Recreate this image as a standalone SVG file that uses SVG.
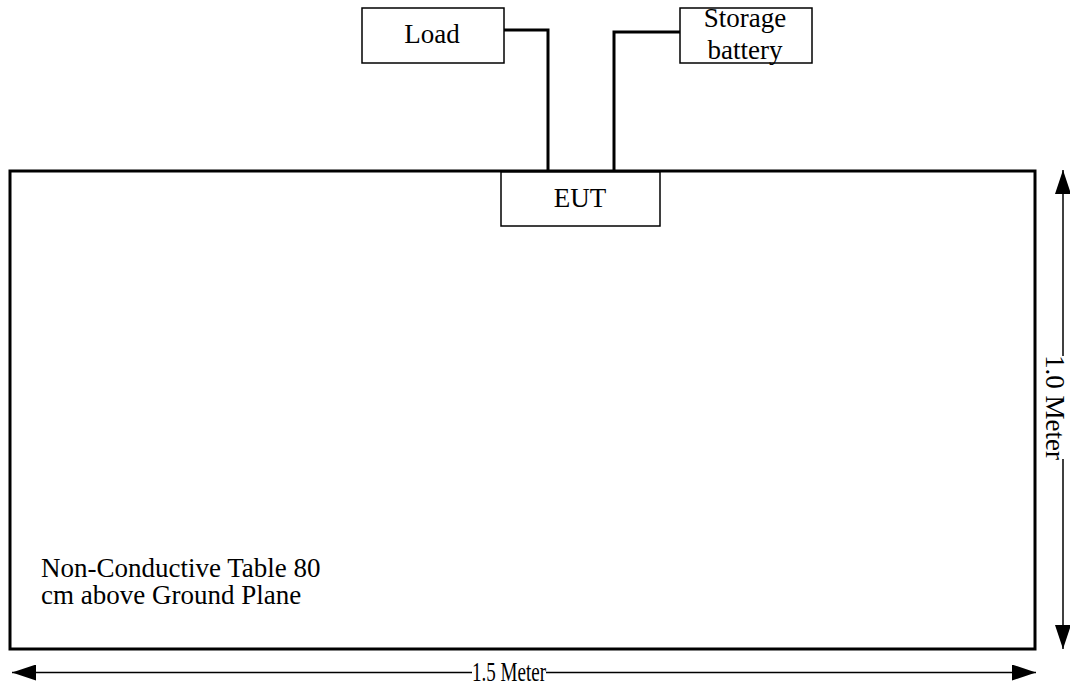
<svg xmlns="http://www.w3.org/2000/svg" width="1070" height="689" viewBox="0 0 1070 689" font-family="'Liberation Serif', 'Times New Roman', serif">
<style>
text{font-family:'Liberation Serif','Times New Roman',serif;font-size:27px;fill:#000}
.box{fill:#fff;stroke:#000;stroke-width:1.5}
.wire{fill:none;stroke:#000;stroke-width:3}
.dim{fill:none;stroke:#000;stroke-width:1.5}
</style>
<defs>
<marker id="ah" viewBox="0 0 24 16" refX="24" refY="8" markerWidth="24" markerHeight="16" markerUnits="userSpaceOnUse" orient="auto-start-reverse">
<path d="M0,0 L24,8 L0,16 Z" fill="#000"/>
</marker>
</defs>
<rect width="1070" height="689" fill="#fff"/>
<g id="table">
<rect x="10" y="171" width="1025" height="478" fill="none" stroke="#000" stroke-width="3"/>
<text x="41" y="577">Non-Conductive Table 80</text>
<text x="41" y="604">cm above Ground Plane</text>
</g>
<g id="connectors">
<polyline class="wire" points="504,30 548,30 548,171"/>
<polyline class="wire" points="680,32 614,32 614,171"/>
<line class="dim" x1="12" y1="672.5" x2="472" y2="672.5" marker-start="url(#ah)"/>
<line class="dim" x1="546" y1="672.5" x2="1036" y2="672.5" marker-end="url(#ah)"/>
<line class="dim" x1="1063" y1="170" x2="1063" y2="356" marker-start="url(#ah)"/>
<line class="dim" x1="1063" y1="459" x2="1063" y2="649" marker-end="url(#ah)"/>
</g>
<g id="load">
<rect class="box" x="362" y="8" width="142" height="55"/>
<text x="432" y="43" text-anchor="middle">Load</text>
</g>
<g id="battery">
<rect class="box" x="680" y="8" width="132" height="55"/>
<text x="745" y="27" text-anchor="middle">Storage</text>
<text x="745" y="59" text-anchor="middle">battery</text>
</g>
<g id="eut">
<rect class="box" x="501" y="172" width="159" height="54"/>
<text x="580" y="207" text-anchor="middle">EUT</text>
</g>
<g id="dims">
<text x="472" y="681" textLength="74" lengthAdjust="spacingAndGlyphs">1.5 Meter</text>
<text transform="translate(1046,407.5) rotate(90)" text-anchor="middle">1.0 Meter</text>
</g>
</svg>
